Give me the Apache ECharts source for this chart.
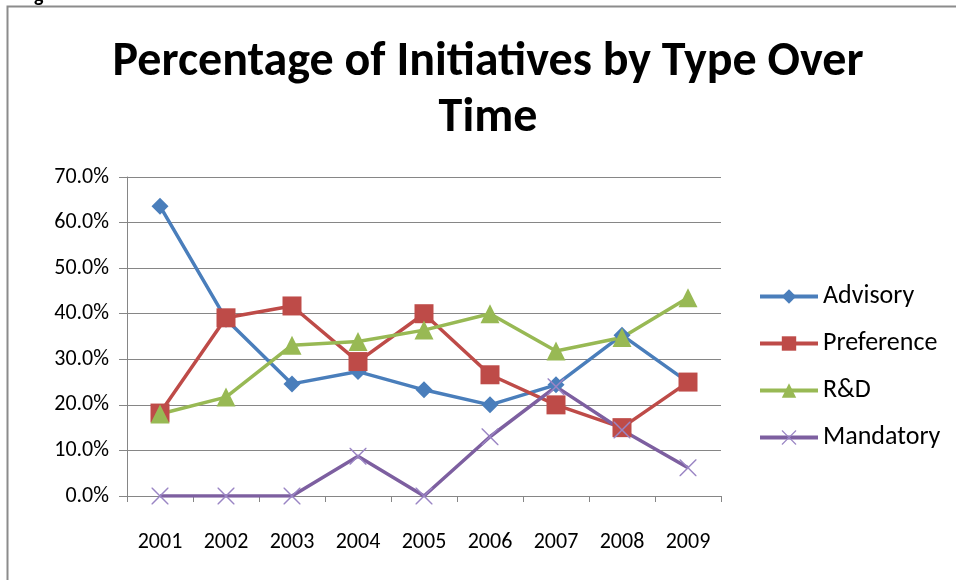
<!DOCTYPE html>
<html><head><meta charset="utf-8">
<script src="https://cdn.jsdelivr.net/npm/echarts@6/dist/echarts.min.js"></script>
<style>html,body{margin:0;padding:0;background:#fff;}#c{width:956px;height:580px;}</style>
</head><body><div id="c"></div>
<script>
const years = ['2001','2002','2003','2004','2005','2006','2007','2008','2009'];
const advisory   = [63.6, 38.8, 24.6, 27.3, 23.3, 20.0, 24.4, 35.3, 25.0];
const preference = [18.2, 39.1, 41.7, 29.5, 40.0, 26.6, 20.0, 15.0, 25.0];
const rnd        = [18.0, 21.7, 33.1, 33.9, 36.4, 40.0, 31.8, 34.8, 43.5];
const mandatory  = [0, 0, 0, 8.7, 0, 13.0, 24.0, 14.5, 6.2];
const seriesNames = ['Advisory','Preference','R&D','Mandatory'];
const titleText = 'Percentage of Initiatives by Type Over\nTime';

const FONT = 'Carlito, Lato, sans-serif';
const crossPath = 'path://M0,0L1.2,0L10,8.8L18.8,0L20,0L20,1.2L11.2,10L20,18.8L20,20L18.8,20L10,11.2L1.2,20L0,20L0,18.8L8.8,10L0,1.2Z';

const chart = echarts.init(document.getElementById('c'));
function mk(name, data, color, symbol, size, symColor){
  return {name, type:'line', data, symbol, symbolSize:size,
    lineStyle:{width:3.5,color}, itemStyle:{color:symColor||color}, emphasis:{disabled:true}, z: 2};
}
chart.setOption({
  animation:false,
  graphic:[
    {type:'rect', shape:{x:7.5,y:6.5,width:960,height:600}, style:{fill:'none',stroke:'#8c8c8c',lineWidth:2}},
    {type:'text', left:34, top:-13, style:{text:'g', font:'bold 20px '+FONT, fill:'#000'}}
  ],
  title:{text:titleText, left:483, textAlign:'center', top:30,
    textStyle:{fontFamily:FONT, fontWeight:'bold', fontSize:48, color:'#000', lineHeight:56}},
  grid:{left:127, right:235, top:177, bottom:84},
  legend:{orient:'vertical', left:753, top:278, itemGap:20, itemWidth:58, itemHeight:18,
    lineStyle:{width:4},
    textStyle:{fontFamily:FONT, fontSize:26, color:'#000', lineHeight:27}, data:seriesNames},
  xAxis:{type:'category', data:years, boundaryGap:true,
    axisLine:{lineStyle:{color:'#868686',width:1}},
    axisTick:{show:true, length:6, lineStyle:{color:'#868686'}},
    axisLabel:{fontFamily:FONT, fontSize:22, color:'#000', margin:35}},
  yAxis:{type:'value', min:0, max:70, interval:10,
    axisLine:{show:true, lineStyle:{color:'#868686'}},
    axisTick:{show:true, length:8, lineStyle:{color:'#868686'}},
    splitLine:{lineStyle:{color:'#868686',width:1}},
    axisLabel:{fontFamily:FONT, fontSize:22, color:'#000', margin:18, formatter:v=>v.toFixed(1)+'%'}},
  series:[
    mk('Advisory', advisory, '#4a7ebb', 'diamond', 17),
    mk('Preference', preference, '#be4b48', 'rect', 19),
    mk('R&D', rnd, '#98b954', 'triangle', 19),
    mk('Mandatory', mandatory, '#7d5fa0', crossPath, 17, '#9a85c4')
  ]
});
</script></body></html>
